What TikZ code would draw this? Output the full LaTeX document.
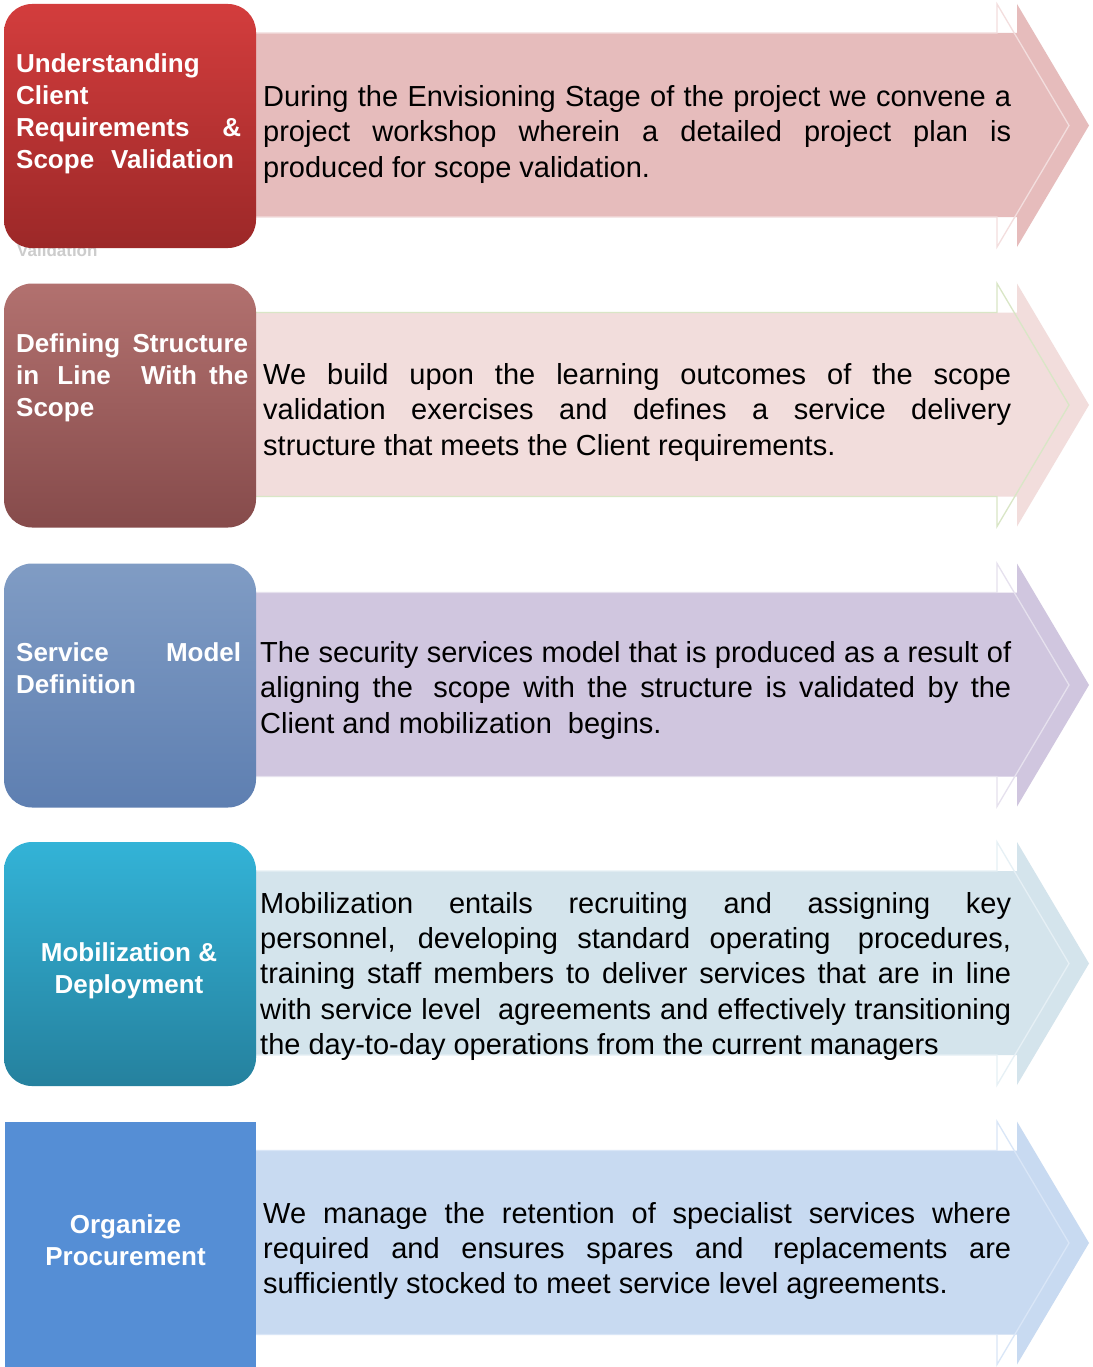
\documentclass[tikz,border=0pt]{standalone}
\usepackage{fontspec}
\setmainfont{Liberation Sans}
\definecolor{boxAtop}{HTML}{D33D3D}
\definecolor{boxAbot}{HTML}{9C2828}
\definecolor{boxBtop}{HTML}{B2716F}
\definecolor{boxBbot}{HTML}{864B4B}
\definecolor{boxCtop}{HTML}{809CC4}
\definecolor{boxCbot}{HTML}{5E7FB1}
\definecolor{boxDtop}{HTML}{33B3D7}
\definecolor{boxDbot}{HTML}{25819E}
\definecolor{boxE}{HTML}{558ED5}
\definecolor{arrA}{HTML}{E6BCBC}
\definecolor{arrB}{HTML}{F2DDDC}
\definecolor{arrC}{HTML}{D0C6DF}
\definecolor{arrD}{HTML}{D4E4EC}
\definecolor{arrE}{HTML}{C8DAF1}
\definecolor{linA}{HTML}{F3DEDE}
\definecolor{linB}{HTML}{D9E6C6}
\definecolor{linC}{HTML}{E6E1EE}
\definecolor{linD}{HTML}{E6F0F5}
\definecolor{linE}{HTML}{D9E6F7}
\newcommand\chevshape[3]{%
  \path[fill=#2] (240,#1+29) -- (1017,#1+29) -- (1017,#1) -- (1089,#1+121.5)
     -- (1017,#1+243) -- (1017,#1+213) -- (240,#1+213) -- cycle;
  \draw[draw=#3, line width=1.3pt, line join=miter] (256,#1+29) -- (997,#1+29) -- (997,#1) -- (1069,#1+121.5)
     -- (997,#1+243) -- (997,#1+213) -- (256,#1+213);
}
\tikzset{
  rtxt/.style={anchor=base west, inner sep=0pt, text=black, font=\fontsize{29}{35}\selectfont},
  ltxt/.style={anchor=base west, inner sep=0pt, text=white, font=\fontsize{26}{32}\selectfont\bfseries},
  ctxt/.style={ltxt, anchor=base},
  stepbox/.style={draw=none, minimum width=252pt, minimum height=244pt, rounded corners=28pt, inner sep=0pt},
}
\begin{document}
\begin{tikzpicture}[x=1pt, y=-1pt]
\useasboundingbox (0,0) rectangle (1092,1367);
\fill[white] (0,0) rectangle (1092,1367);

% arrows
\chevshape{4}{arrA}{linA}
\chevshape{283.5}{arrB}{linB}
\chevshape{563.5}{arrC}{linC}
\chevshape{842}{arrD}{linD}
\chevshape{1121.5}{arrE}{linE}

% ghost text under first box
\node[anchor=base west, inner sep=0pt, text=gray!40, font=\fontsize{17}{17}\selectfont\bfseries] (ghost) at (17,256) {Validation};

% boxes
\node[stepbox, top color=boxAtop, bottom color=boxAbot] (b1) at (130,126) {};
\node[stepbox, top color=boxBtop, bottom color=boxBbot] (b2) at (130,405.5) {};
\node[stepbox, top color=boxCtop, bottom color=boxCbot] (b3) at (130,685.5) {};
\node[stepbox, top color=boxDtop, bottom color=boxDbot] (b4) at (130,964) {};
\node[draw=none, fill=boxE, minimum width=251pt, minimum height=246pt, inner sep=0pt] (b5) at (130.5,1244.5) {};

% left texts
\node[ltxt] (l1a) at (16,72.7) {Understanding};
\node[ltxt] (l1b) at (16,104.7) {Client};
\node[ltxt] (l1c) at (16,136.7) {\makebox[225pt][s]{Requirements \&}};
\node[ltxt] (l1d) at (16,168.7) {Scope\hspace{17pt}Validation};

\node[ltxt] (l2a) at (16,352) {\makebox[232pt][s]{Defining Structure}};
\node[ltxt] (l2b) at (16,384) {\makebox[232pt][s]{in\hspace{6pt} Line\hspace{18pt} With the}};
\node[ltxt] (l2c) at (16,416) {Scope};

\node[ltxt] (l3a) at (16,661) {\makebox[225pt][s]{Service Model}};
\node[ltxt] (l3b) at (16,693) {Definition};

\node[ctxt] (l4a) at (129,961) {Mobilization \&};
\node[ctxt] (l4b) at (129,993) {Deployment};

\node[ctxt] (l5a) at (125.5,1233) {Organize};
\node[ctxt] (l5b) at (125.5,1265) {Procurement};

% right texts
\node[rtxt] (r1a) at (263,106.5) {\makebox[748pt][s]{During the Envisioning Stage of the project we convene a}};
\node[rtxt] (r1b) at (263,142) {\makebox[748pt][s]{project workshop wherein a detailed project plan is}};
\node[rtxt] (r1c) at (263,177.5) {produced for scope validation.};

\node[rtxt] (r2a) at (263,384) {\makebox[748pt][s]{We build upon the learning outcomes of the scope}};
\node[rtxt] (r2b) at (263,419) {\makebox[748pt][s]{validation exercises and defines a service delivery}};
\node[rtxt] (r2c) at (263,455) {structure that meets the Client requirements.};

\node[rtxt] (r3a) at (260,662) {\makebox[751pt][s]{The security services model that is produced as a result of}};
\node[rtxt] (r3b) at (260,697.5) {\makebox[751pt][s]{aligning the\hspace{8pt} scope with the structure is validated by the}};
\node[rtxt] (r3c) at (260,733) {Client and mobilization\hspace{8pt} begins.};

\node[rtxt] (r4a) at (260,913) {\makebox[751pt][s]{Mobilization entails recruiting and assigning key}};
\node[rtxt] (r4b) at (260,948) {\makebox[751pt][s]{personnel, developing standard operating\hspace{8pt} procedures,}};
\node[rtxt] (r4c) at (260,983.5) {\makebox[751pt][s]{training staff members to deliver services that are in line}};
\node[rtxt] (r4d) at (260,1019) {\makebox[751pt][s]{with service level\hspace{8pt} agreements and effectively transitioning}};
\node[rtxt] (r4e) at (260,1054) {the day-to-day operations from the current managers};

\node[rtxt] (r5a) at (263,1223) {\makebox[748pt][s]{We manage the retention of specialist services where}};
\node[rtxt] (r5b) at (263,1258) {\makebox[748pt][s]{required and ensures spares and\hspace{8pt} replacements are}};
\node[rtxt] (r5c) at (263,1293) {sufficiently stocked to meet service level agreements.};
\end{tikzpicture}
\end{document}
